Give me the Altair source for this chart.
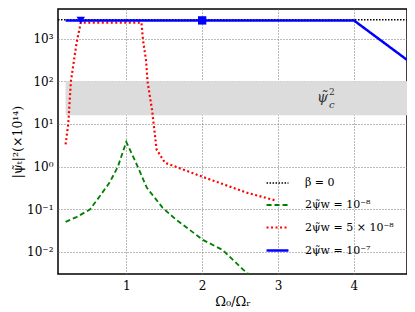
import altair as alt
import pandas as pd
import math

# ---- data ----
series_labels = ["β = 0", "2ψ̃w = 10⁻⁸", "2ψ̃w = 5 × 10⁻⁸", "2ψ̃w = 10⁻⁷"]
series_colors = ["#000000", "#008000", "#ff0000", "#0000ff"]
series_dashes = [[1.5, 1.5], [5, 3], [2, 2.5], [1, 0]]
series_widths = [1.5, 2.5, 2.0, 1.5]

x_beta = [0.1, 4.7]
y_beta = [2800, 2800]

x_green = [0.2, 0.35, 0.52, 0.65, 0.78, 0.89, 1.0, 1.14, 1.27, 1.48, 1.66, 2.01, 2.27, 2.54, 2.7]
y_green = [0.05, 0.066, 0.098, 0.2, 0.42, 1.0, 3.8, 1.1, 0.32, 0.107, 0.056, 0.019, 0.011, 0.0038, 0.0022]

x_red = [0.2, 0.235, 0.27, 0.345, 0.4, 1.2, 1.22, 1.245, 1.26, 1.28, 1.34, 1.40, 1.51, 2.01, 2.6, 2.97]
y_red = [3.3, 10, 100, 800, 2400, 2400, 950, 470, 320, 100, 21, 2.5, 1.23, 0.57, 0.24, 0.16]

x_blue = [0.2, 4.0, 4.7]
y_blue = [2700, 2700, 320]

marker_x = [0.4, 2.0]
marker_y = [2700, 2700]
marker_shapes = ["triangle-down", "square"]

band_x = [0.2, 4.7]
band_y = [16, 100]

x_ticks = [1, 2, 3, 4]
y_ticks = [0.01, 0.1, 1, 10, 100, 1000]
y_tick_labels = ["10⁻²", "10⁻¹", "10⁰", "10¹", "10²", "10³"]

# ---- build tables ----
rows = []
for lab, xs, ys in zip(series_labels, [x_beta, x_green, x_red, x_blue],
                       [y_beta, y_green, y_red, y_blue]):
    for i, (a, b) in enumerate(zip(xs, ys)):
        rows.append({"series": lab, "x": a, "y": b, "o": i})
lines_df = pd.DataFrame(rows)
markers_df = pd.DataFrame({"x": marker_x, "y": marker_y, "shape": marker_shapes})
band_df = pd.DataFrame({"x": [band_x[0]], "x2": [band_x[1]], "y": [band_y[0]], "y2": [band_y[1]]})

FONT = "DejaVu Serif"
xscale = alt.Scale(domain=[0.1, 4.7], nice=False, zero=False)
yscale = alt.Scale(type="log", domain=[0.003, 5000], nice=False)

expr_parts = []
for v, l in zip(y_ticks, y_tick_labels):
    expr_parts.append(f"abs(log(datum.value)/log(10) - ({math.log10(v)})) < 0.01 ? '{l}'")
label_expr = " : ".join(expr_parts) + " : ''"

xaxis = alt.Axis(values=x_ticks, format="d", title="Ω₀/Ωᵣ", grid=True, gridDash=[1, 2], gridColor="#777777",
                 labelFont=FONT, labelFontSize=12, titleFont=FONT, titleFontSize=13,
                 titleFontWeight="normal", labelColor="black", titleColor="black",
                 tickColor="black", tickSize=0, domain=False, labelPadding=6, titlePadding=4)
yaxis = alt.Axis(values=y_ticks, labelExpr=label_expr, title="|ψ̃ₜ|²(×10¹⁴)", grid=True,
                 gridDash=[1, 2], gridColor="#777777", labelFont=FONT, labelFontSize=12,
                 titleFont=FONT, titleFontSize=12.5, titleFontWeight="normal",
                 labelColor="black", titleColor="black", tickColor="black", tickSize=0,
                 domain=False, labelPadding=5, titlePadding=2)

band = alt.Chart(band_df).mark_rect(color="#dcdcdc", clip=True).encode(
    x=alt.X("x:Q", scale=xscale, axis=xaxis),
    x2="x2:Q",
    y=alt.Y("y:Q", scale=yscale, axis=yaxis),
    y2="y2:Q",
)

# band annotation: psi-tilde with superscript 2 and subscript c
ann_x = [3.66]
ann_y = [40]
band_label = alt.Chart(pd.DataFrame({"x": ann_x, "y": ann_y, "t": ["ψ̃"]})).mark_text(
    font=FONT, fontSize=14, fontStyle="italic", color="#333333", align="right", baseline="middle"
).encode(x=alt.X("x:Q", scale=xscale), y=alt.Y("y:Q", scale=yscale), text="t:N")
band_sup = alt.Chart(pd.DataFrame({"x": ann_x, "y": ann_y, "t": ["2"]})).mark_text(
    font=FONT, fontSize=9, color="#333333", align="left", baseline="bottom", dx=1, dy=-1
).encode(x=alt.X("x:Q", scale=xscale), y=alt.Y("y:Q", scale=yscale), text="t:N")
band_sub = alt.Chart(pd.DataFrame({"x": ann_x, "y": ann_y, "t": ["c"]})).mark_text(
    font=FONT, fontSize=10, fontStyle="italic", color="#333333", align="left", baseline="top",
    dx=1, dy=2
).encode(x=alt.X("x:Q", scale=xscale), y=alt.Y("y:Q", scale=yscale), text="t:N")

lines = alt.Chart(lines_df).mark_line(clip=True).encode(
    x=alt.X("x:Q", scale=xscale),
    y=alt.Y("y:Q", scale=yscale),
    order="o:Q",
    color=alt.Color("series:N", scale=alt.Scale(domain=series_labels, range=series_colors),
                    legend=alt.Legend(title=None, orient="none", legendX=207, legendY=162,
                                      symbolType="stroke", symbolSize=480,
                                      labelFont=FONT, labelFontSize=11, labelColor="black",
                                      rowPadding=5, labelOffset=15)),
    strokeDash=alt.StrokeDash("series:N", scale=alt.Scale(domain=series_labels, range=series_dashes)),
    strokeWidth=alt.StrokeWidth("series:N", scale=alt.Scale(domain=series_labels, range=series_widths)),
)

markers = alt.Chart(markers_df).mark_point(filled=True, color="#0000ff", size=70, opacity=1, clip=True).encode(
    x=alt.X("x:Q", scale=xscale),
    y=alt.Y("y:Q", scale=yscale),
    shape=alt.Shape("shape:N", scale=None),
)

chart = alt.layer(band, band_label, band_sup, band_sub, lines, markers).properties(
    width=349, height=265,
    autosize=alt.AutoSizeParams(type="none"),
    padding={"left": 50, "top": 1, "right": 0, "bottom": 38},
    background="white",
).configure_view(stroke="black", strokeWidth=1.5)

chart.save("out.html", embed_options={"renderer": "svg", "actions": False})
